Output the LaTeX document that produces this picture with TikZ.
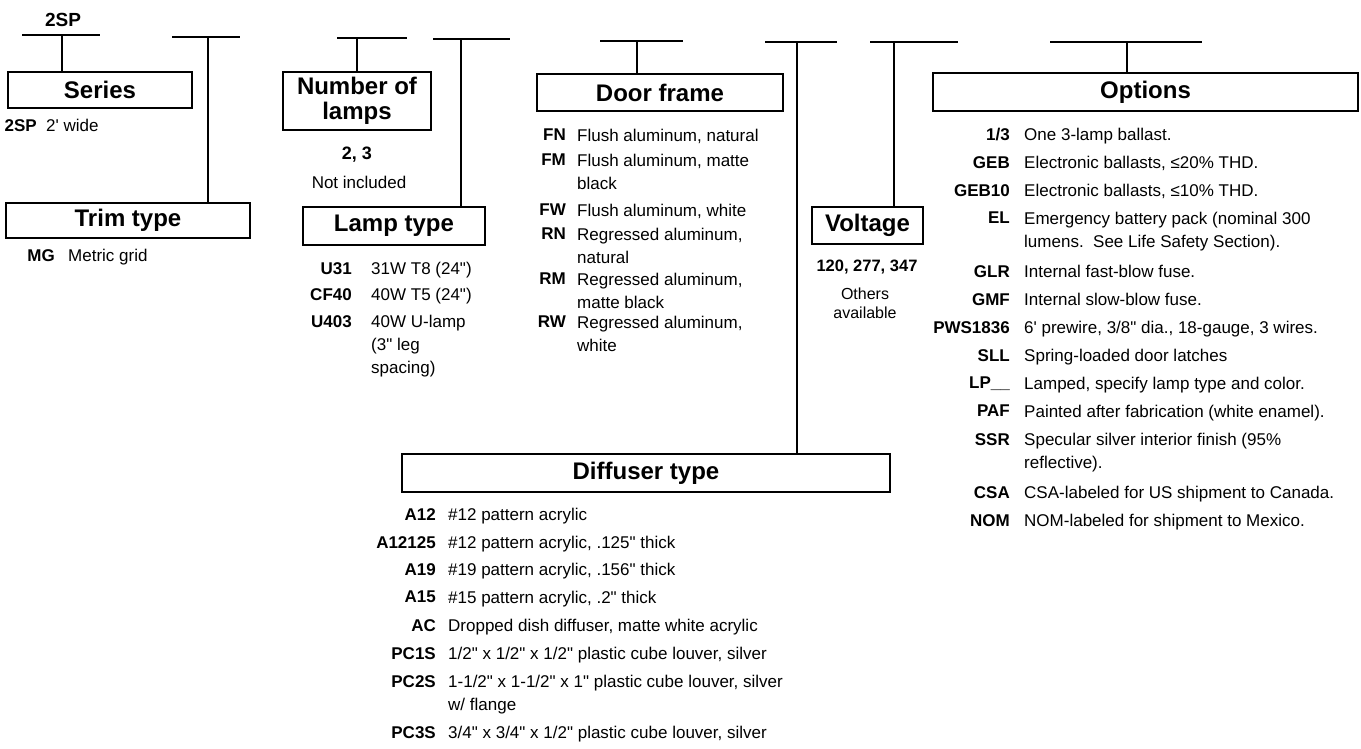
\documentclass[tikz,border=0pt]{standalone}
\usepackage{fontspec}
\setmainfont{Liberation Sans}[Ligatures=TeXOff]

\tikzset{
  hbox/.style={draw, line width=1.3pt, inner sep=0pt, align=center,
    font=\bfseries\fontsize{24}{25}\selectfont},
  code/.style={anchor=north east, inner sep=0pt, font=\bfseries\fontsize{17}{23}\selectfont},
  desc/.style={anchor=north west, inner sep=0pt, align=left, font=\fontsize{17}{23}\selectfont},
  note/.style={inner sep=0pt, align=center, font=\fontsize{16}{19}\selectfont},
  tbar/.style={line width=1.6pt}
}

\begin{document}
\begin{tikzpicture}[x=1pt,y=-1pt]
\useasboundingbox (0,0) rectangle (1361,748);

\node[font=\bfseries\fontsize{19}{20}\selectfont] (model) at (63,20) {2SP};

% heading boxes
\node[hbox, minimum width=184, minimum height=36] (series) at (100,90) {Series};
\node[hbox, minimum width=244, minimum height=35] (trim) at (128,220.5) {Trim type};
\node[hbox, minimum width=148, minimum height=58] (lamps) at (357,101) {Number of\\lamps};
\node[hbox, minimum width=182, minimum height=38] (lamptype) at (394,226) {Lamp type};
\node[hbox, minimum width=246, minimum height=37] (door) at (660,92.5) {Door frame};
\node[hbox, minimum width=111, minimum height=37] (voltage) at (867.5,225.5) {Voltage};
\node[hbox, minimum width=425, minimum height=38] (options) at (1145.5,92) {Options};
\node[hbox, minimum width=488, minimum height=38] (diffuser) at (646,473) {Diffuser type};

% bars over the boxes
\foreach \xl/\xr/\yb/\xv/\tgt in {22/100/35/62/series, 172/240/37/208/trim,
    337/407/38/357/lamps, 433/510/39/461/lamptype, 600/683/41/637/door,
    765/837/42/797/diffuser, 870/958/42/894/voltage, 1050/1202/42/1127/options} {
  \coordinate (\tgt-l) at (\xl,\yb);
  \coordinate (\tgt-r) at (\xr,\yb);
  \coordinate (\tgt-t) at (\xv,\yb);
  \draw[tbar] (\tgt-l) -- (\tgt-r);
  \draw[tbar] (\tgt-t) -- (\tgt-t |- \tgt.north);
}

% series and trim
\node[code] (ser-1) at (37,119) {2SP};
\node[desc] (ser-1-d) at (46,119) {2' wide};
\node[code] (trim-1) at (55,249) {MG};
\node[desc] (trim-1-d) at (68,249) {Metric grid};

% number of lamps
\node[note, font=\bfseries\fontsize{18}{20}\selectfont] (count) at (357,155) {2, 3};
\node[note, font=\fontsize{17}{20}\selectfont] (count-n) at (359,182) {Not included};

% lamp type
\foreach \y/\c/\txt [count=\i] in {268/U31/{31W T8 (24")}, 294/CF40/{40W T5 (24")},
    321/U403/{40W U-lamp\\(3" leg\\spacing)}} {
  \node[code] (lamp-\i) at (352,\y-6) {\c};
  \node[desc] (lamp-\i-d) at (371,\y-6) {\txt};
}

% door frame
\foreach \y/\c/\txt [count=\i] in {135/FN/{Flush aluminum, natural},
    160/FM/{Flush aluminum, matte\\black}, 210/FW/{Flush aluminum, white},
    234/RN/{Regressed aluminum,\\natural}, 279/RM/{Regressed aluminum,\\matte black},
    322/RW/{Regressed aluminum,\\white}} {
  \node[code] (door-\i) at (566,\y-6) {\c};
  \node[desc] (door-\i-d) at (577,\y-6) {\txt};
}

% voltage
\node[note, font=\bfseries\fontsize{16.5}{20}\selectfont] (volts) at (867,267) {120, 277, 347};
\node[note] (volts-n) at (865,303) {Others\\available};

% options
\foreach \y/\c/\txt [count=\i] in {134/{1/3}/{One 3-lamp ballast.},
    162/GEB/{Electronic ballasts, ≤20\% THD.}, 190/GEB10/{Electronic ballasts, ≤10\% THD.},
    218/EL/{Emergency battery pack (nominal 300\\lumens.\ \ See Life Safety Section).},
    271/GLR/{Internal fast-blow fuse.}, 299/GMF/{Internal slow-blow fuse.},
    327/PWS1836/{6' prewire, 3/8" dia., 18-gauge, 3 wires.},
    355/SLL/{Spring-loaded door latches}, 383/LP\_\_/{Lamped, specify lamp type and color.},
    411/PAF/{Painted after fabrication (white enamel).},
    439/SSR/{Specular silver interior finish (95\%\\reflective).},
    492/CSA/{CSA-labeled for US shipment to Canada.},
    520/NOM/{NOM-labeled for shipment to Mexico.}} {
  \node[code] (opt-\i) at (1010,\y-6) {\c};
  \node[desc] (opt-\i-d) at (1024,\y-6) {\txt};
}

% diffuser type
\foreach \y/\c/\txt [count=\i] in {514/A12/{\#12 pattern acrylic},
    542/A12125/{\#12 pattern acrylic, .125" thick}, 569/A19/{\#19 pattern acrylic, .156" thick},
    597/A15/{\#15 pattern acrylic, .2" thick}, 625/AC/{Dropped dish diffuser, matte white acrylic},
    653/PC1S/{1/2" x 1/2" x 1/2" plastic cube louver, silver},
    681/PC2S/{1-1/2" x 1-1/2" x 1" plastic cube louver, silver\\w/ flange},
    732/PC3S/{3/4" x 3/4" x 1/2" plastic cube louver, silver}} {
  \node[code] (dif-\i) at (436,\y-6) {\c};
  \node[desc] (dif-\i-d) at (448,\y-6) {\txt};
}
\end{tikzpicture}
\end{document}
